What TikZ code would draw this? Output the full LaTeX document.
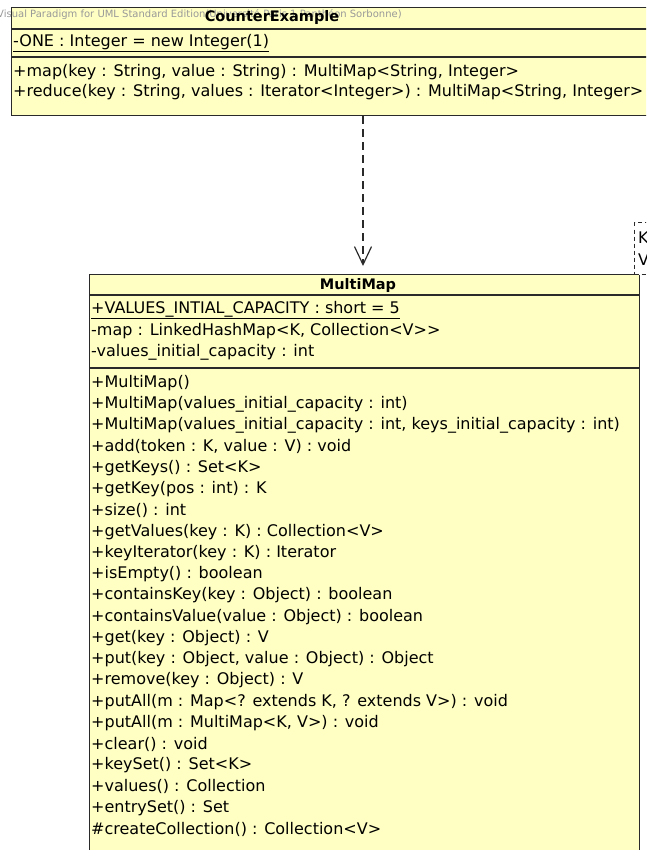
\documentclass[tikz,border=0pt]{standalone}
\usepackage{fontspec}
\setmainfont{DejaVu Sans}
\usetikzlibrary{arrows.meta}

\definecolor{classfill}{HTML}{FFFFC4}
\definecolor{classline}{HTML}{2A2A2A}
\definecolor{stampgray}{HTML}{999999}

\begin{document}
\begin{tikzpicture}[x=1pt, y=-1pt,
					class box/.style={rectangle, draw=classline, fill=classfill, line width=1.1pt, inner sep=0pt, anchor=north west},
					member/.style={anchor=west, inner sep=0pt, font=\fontsize{16}{19}\selectfont},
					class name/.style={inner sep=0pt, font=\fontsize{14.5}{17}\selectfont\bfseries},
					param box/.style={rectangle, draw=classline, dash pattern=on 4pt off 3pt, fill=white, line width=1pt, inner sep=0pt, anchor=north west},
					realize/.style={draw=classline, line width=1.2pt, dash pattern=on 8pt off 5pt, -{Straight Barb[length=18pt, width=17pt]}, shorten >=8pt}]

  \useasboundingbox (0,0) rectangle (646,850);
  \clip (0,0) rectangle (646,850);

  % CounterExample
  \node[class box, minimum width=660pt, minimum height=108pt] (counter) at (11,7) {};
  \draw[classline, line width=1.1pt] (11,29) -- ++(660,0) (11,57) -- ++(660,0);
  \node[anchor=west, inner sep=0pt, text=stampgray, font=\fontsize{10}{12}\selectfont] (stamp) at (-3,15)
    {Visual Paradigm for UML Standard Edition(Université Paris 1 Panthéon Sorbonne)};
  \node[class name] (counter name) at (272,18) {CounterExample};
  \node[member] (one) at (13,43) {\underline{-ONE : Integer = new Integer(1)}};
  \node[member] (map) at (13,72) {+map(key : String, value : String) : MultiMap<String, Integer>};
  \node[member] (reduce) at (13,92) {+reduce(key : String, values : Iterator<Integer>) : MultiMap<String, Integer>};

  % MultiMap
  \node[class box, minimum width=550pt, minimum height=600pt] (multimap) at (89,274) {};
  \draw[classline, line width=1.1pt] (89,295) -- ++(550,0) (89,368) -- ++(550,0);
  \node[class name] (multimap name) at (358,285) {MultiMap};
  \node[member] (capacity) at (91,310) {\underline{+VALUES\_INTIAL\_CAPACITY : short = 5}};
  \node[member] (inner map) at (91,331) {-map : LinkedHashMap<K, Collection<V>{}>};
  \node[member] (values cap) at (91,352) {-values\_initial\_capacity : int};
  \foreach \sig [count=\k] in {{+MultiMap()},
      {+MultiMap(values\_initial\_capacity : int)},
      {+MultiMap(values\_initial\_capacity : int, keys\_initial\_capacity : int)},
      {+add(token : K, value : V) : void},
      {+getKeys() : Set<K>},
      {+getKey(pos : int) : K},
      {+size() : int},
      {+getValues(key : K) : Collection<V>},
      {+keyIterator(key : K) : Iterator},
      {+isEmpty() : boolean},
      {+containsKey(key : Object) : boolean},
      {+containsValue(value : Object) : boolean},
      {+get(key : Object) : V},
      {+put(key : Object, value : Object) : Object},
      {+remove(key : Object) : V},
      {+putAll(m : Map<? extends K, ? extends V>) : void},
      {+putAll(m : MultiMap<K, V>) : void},
      {+clear() : void},
      {+keySet() : Set<K>},
      {+values() : Collection},
      {+entrySet() : Set},
      {\#createCollection() : Collection<V>}}
    \node[member] (op\k) at (91,{361.76+21.24*\k}) {\sig};

  % template parameters
  \node[param box, minimum width=30pt, minimum height=52pt] (params) at (634,222) {};
  \node[member] (param k) at (638,238) {K};
  \node[member] (param v) at (638,260) {V};

  % dependency
  \coordinate (dep x) at (363,0);
  \draw[realize] (counter.south -| dep x) -- (multimap.north -| dep x);
\end{tikzpicture}
\end{document}
